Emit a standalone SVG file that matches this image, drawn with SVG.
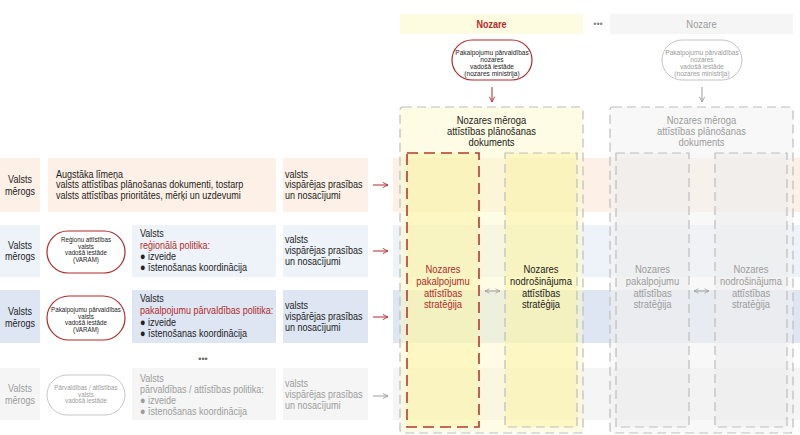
<svg xmlns="http://www.w3.org/2000/svg" width="800" height="435" viewBox="0 0 800 435">
<defs>
<style>
text{font-family:"Liberation Sans",Arial,sans-serif;font-size:11px;fill:#222}
.c{text-anchor:middle}
.r{fill:#b22a2a}
.g{fill:#9c9c9c}
.o{font-size:7.6px}
.ot{font-size:8px}
.t{font-size:11.5px}
.peach{fill:#fdf0e6}
.blue1{fill:#eef2f9}
.blue2{fill:#dfe6f3}
.gray{fill:#f5f5f5}
.yo{fill:#fdf9c9;fill-opacity:.5}
.yi{fill:#faf2a2;fill-opacity:.5}
.go{fill:#f1f1f1;fill-opacity:.5}
.gi{fill:#ececec;fill-opacity:.5}
.dash{fill:none;stroke:#bdbdbd;stroke-width:1.2;stroke-dasharray:9 5}
.dashr{fill:none;stroke:#b53a2c;stroke-width:1.6;stroke-dasharray:11 6}
.ar{fill:none;stroke:#b22a2a;stroke-width:1}
.ag{fill:none;stroke:#9c9c9c;stroke-width:1}
</style>
<marker id="mr" viewBox="0 0 8 8" refX="7" refY="4" markerWidth="7" markerHeight="7" markerUnits="userSpaceOnUse" orient="auto"><path d="M1,1 L7,4 L1,7" fill="none" stroke="#b22a2a" stroke-width="1"/></marker>
<marker id="mg" viewBox="0 0 8 8" refX="7" refY="4" markerWidth="7" markerHeight="7" markerUnits="userSpaceOnUse" orient="auto"><path d="M1,1 L7,4 L1,7" fill="none" stroke="#9c9c9c" stroke-width="1"/></marker>
<marker id="mgs" viewBox="0 0 8 8" refX="7" refY="4" markerWidth="6" markerHeight="6" markerUnits="userSpaceOnUse" orient="auto-start-reverse"><path d="M1,1 L7,4 L1,7" fill="none" stroke="#9c9c9c" stroke-width="1"/></marker>
</defs>
<rect width="800" height="435" fill="#fff"/>

<!-- row bands -->
<g id="bands">
<rect class="peach" x="393" y="158" width="407" height="54"/>
<rect class="blue1" x="393" y="225" width="407" height="52"/>
<rect class="blue2" x="393" y="290" width="407" height="53"/>
<rect class="gray" x="393" y="368" width="407" height="52"/>
</g>

<!-- sector 1 (highlighted) -->
<g id="sector1-header">
<rect x="400" y="14" width="183" height="20" fill="#fdfbe0"/>
<g transform="translate(491.5,0) scale(.82,1)"><text class="c r" x="0" y="28" font-weight="bold">Nozare</text></g>
</g>
<g id="sector1-ministry">
<rect x="452" y="40" width="80" height="40" rx="20" fill="#fff" stroke="#b22a2a" stroke-width="1.2"/>
<g transform="translate(492,0) scale(.82,1)">
<text class="c ot" x="0" y="55.5">Pakalpojumu pārvaldības</text>
<text class="c ot" x="0" y="62.5">nozares</text>
<text class="c ot" x="0" y="69.5">vadošā iestāde</text>
<text class="c ot" x="0" y="76.5">(nozares ministrija)</text>
</g>
</g>
<g id="sector1-doc">
<rect class="yo" x="400" y="107" width="183" height="326" rx="3"/>
<rect class="dash" x="400" y="107" width="183" height="326" rx="3"/>
<g transform="translate(491.5,0) scale(.82,1)">
<text class="c t" x="0" y="124">Nozares mēroga</text>
<text class="c t" x="0" y="135">attīstības plānošanas</text>
<text class="c t" x="0" y="146">dokuments</text>
</g>
</g>
<g id="sector1-service">
<rect class="yi" x="407" y="153" width="72" height="274"/>
<rect class="dashr" x="407" y="153" width="72" height="274"/>
<g transform="translate(443,0) scale(.82,1)">
<text class="c t r" x="0" y="273">Nozares</text>
<text class="c t r" x="0" y="285">pakalpojumu</text>
<text class="c t r" x="0" y="297">attīstības</text>
<text class="c t r" x="0" y="308">stratēģija</text>
</g>
</g>
<g id="sector1-support">
<rect class="yi" x="505" y="153" width="72" height="274"/>
<rect class="dash" x="505" y="153" width="72" height="274"/>
<g transform="translate(541,0) scale(.82,1)">
<text class="c t" x="0" y="273">Nozares</text>
<text class="c t" x="0" y="285">nodrošinājuma</text>
<text class="c t" x="0" y="297">attīstības</text>
<text class="c t" x="0" y="308">stratēģija</text>
</g>
</g>

<text class="c" x="598" y="27" style="font-size:9px;fill:#888">•••</text>

<!-- sector 2 (gray) -->
<g id="sector2-header">
<rect x="610" y="14" width="183" height="20" fill="#f5f5f5"/>
<g transform="translate(701.5,0) scale(.82,1)"><text class="c g" x="0" y="28" style="font-size:11.5px">Nozare</text></g>
</g>
<g id="sector2-ministry">
<rect x="662" y="40" width="80" height="40" rx="20" fill="#fff" stroke="#c4c4c4" stroke-width="1"/>
<g transform="translate(702,0) scale(.82,1)">
<text class="c ot g" x="0" y="55.5">Pakalpojumu pārvaldības</text>
<text class="c ot g" x="0" y="62.5">nozares</text>
<text class="c ot g" x="0" y="69.5">vadošā iestāde</text>
<text class="c ot g" x="0" y="76.5">(nozares ministrija)</text>
</g>
</g>
<g id="sector2-doc">
<rect class="go" x="610" y="107" width="183" height="326" rx="3"/>
<rect class="dash" x="610" y="107" width="183" height="326" rx="3"/>
<g transform="translate(701.5,0) scale(.82,1)">
<text class="c t g" x="0" y="124">Nozares mēroga</text>
<text class="c t g" x="0" y="135">attīstības plānošanas</text>
<text class="c t g" x="0" y="146">dokuments</text>
</g>
</g>
<g id="sector2-service">
<rect class="gi" x="616" y="153" width="73" height="274"/>
<rect class="dash" x="616" y="153" width="73" height="274"/>
<g transform="translate(652.5,0) scale(.82,1)">
<text class="c t g" x="0" y="273">Nozares</text>
<text class="c t g" x="0" y="285">pakalpojumu</text>
<text class="c t g" x="0" y="297">attīstības</text>
<text class="c t g" x="0" y="308">stratēģija</text>
</g>
</g>
<g id="sector2-support">
<rect class="gi" x="715" y="153" width="72" height="274"/>
<rect class="dash" x="715" y="153" width="72" height="274"/>
<g transform="translate(751,0) scale(.82,1)">
<text class="c t g" x="0" y="273">Nozares</text>
<text class="c t g" x="0" y="285">nodrošinājuma</text>
<text class="c t g" x="0" y="297">attīstības</text>
<text class="c t g" x="0" y="308">stratēģija</text>
</g>
</g>

<!-- row 1 -->
<g id="row1-label">
<rect class="peach" x="0" y="158" width="40" height="54"/>
<g transform="translate(20,0) scale(.82,1)">
<text class="c" x="0" y="183">Valsts</text>
<text class="c" x="0" y="195">mērogs</text>
</g>
</g>
<g id="row1-docs">
<rect class="peach" x="48" y="158" width="228" height="54"/>
<g transform="translate(56,0) scale(.82,1)">
<text x="0" y="178">Augstāka līmeņa</text>
<text x="0" y="188.5">valsts attīstības plānošanas dokumenti, tostarp</text>
<text x="0" y="199">valsts attīstības prioritātes, mērķi un uzdevumi</text>
</g>
</g>
<g id="row1-req">
<rect class="peach" x="283" y="158" width="85" height="54"/>
<g transform="translate(285,0) scale(.82,1)">
<text x="0" y="178">valsts</text>
<text x="0" y="188.5">vispārējas prasības</text>
<text x="0" y="199">un nosacījumi</text>
</g>
</g>

<!-- row 2 -->
<g id="row2-label">
<rect class="blue1" x="0" y="225" width="40" height="52"/>
<g transform="translate(20,0) scale(.82,1)">
<text class="c" x="0" y="249">Valsts</text>
<text class="c" x="0" y="260">mērogs</text>
</g>
</g>
<g id="row2-authority">
<rect x="47" y="231" width="78" height="42" rx="21" fill="#fff" stroke="#b22a2a" stroke-width="1.2"/>
<g transform="translate(86,0) scale(.82,1)">
<text class="c o" x="0" y="242.5">Reģionu attīstības</text>
<text class="c o" x="0" y="249">valsts</text>
<text class="c o" x="0" y="255.5">vadošā iestāde</text>
<text class="c o" x="0" y="262">(VARAM)</text>
</g>
</g>
<g id="row2-policy">
<rect class="blue1" x="132" y="225" width="144" height="52"/>
<g transform="translate(140,0) scale(.82,1)">
<text x="0" y="237">Valsts</text>
<text class="r" x="0" y="249">reģionālā politika:</text>
<text x="0" y="260">● izveide</text>
<text x="0" y="271">● īstenošanas koordinācija</text>
</g>
</g>
<g id="row2-req">
<rect class="blue1" x="283" y="225" width="85" height="52"/>
<g transform="translate(285,0) scale(.82,1)">
<text x="0" y="243">valsts</text>
<text x="0" y="254">vispārējas prasības</text>
<text x="0" y="265">un nosacījumi</text>
</g>
</g>

<!-- row 3 -->
<g id="row3-label">
<rect class="blue2" x="0" y="290" width="40" height="53"/>
<g transform="translate(20,0) scale(.82,1)">
<text class="c" x="0" y="315">Valsts</text>
<text class="c" x="0" y="327">mērogs</text>
</g>
</g>
<g id="row3-authority">
<rect x="47" y="296" width="78" height="44" rx="22" fill="#fff" stroke="#b22a2a" stroke-width="1.2"/>
<g transform="translate(86,0) scale(.82,1)">
<text class="c o" x="0" y="312.5">Pakalpojumu pārvaldības</text>
<text class="c o" x="0" y="319">valsts</text>
<text class="c o" x="0" y="325.5">vadošā iestāde</text>
<text class="c o" x="0" y="332">(VARAM)</text>
</g>
</g>
<g id="row3-policy">
<rect class="blue2" x="132" y="290" width="144" height="53"/>
<g transform="translate(140,0) scale(.82,1)">
<text x="0" y="302">Valsts</text>
<text class="r" x="0" y="314">pakalpojumu pārvaldības politika:</text>
<text x="0" y="326">● izveide</text>
<text x="0" y="337">● īstenošanas koordinācija</text>
</g>
</g>
<g id="row3-req">
<rect class="blue2" x="283" y="290" width="85" height="53"/>
<g transform="translate(285,0) scale(.82,1)">
<text x="0" y="309">valsts</text>
<text x="0" y="320">vispārējas prasības</text>
<text x="0" y="331">un nosacījumi</text>
</g>
</g>

<text class="c" x="203" y="362" style="font-size:9px;fill:#666">•••</text>

<!-- row 4 -->
<g id="row4-label">
<rect class="gray" x="0" y="368" width="40" height="52"/>
<g transform="translate(20,0) scale(.82,1)">
<text class="c g" x="0" y="392">Valsts</text>
<text class="c g" x="0" y="404">mērogs</text>
</g>
</g>
<g id="row4-authority">
<rect x="47" y="375" width="78" height="40" rx="20" fill="#fff" stroke="#c8c8c8" stroke-width="1"/>
<g transform="translate(86,0) scale(.82,1)">
<text class="c o g" x="0" y="390.5">Pārvaldības / attīstības</text>
<text class="c o g" x="0" y="397">valsts</text>
<text class="c o g" x="0" y="403.5">vadošā iestāde</text>
</g>
</g>
<g id="row4-policy">
<rect class="gray" x="132" y="368" width="144" height="52"/>
<g transform="translate(140,0) scale(.82,1)">
<text class="g" x="0" y="382">Valsts</text>
<text class="g" x="0" y="393">pārvaldības / attīstības politika:</text>
<text class="g" x="0" y="404">● izveide</text>
<text class="g" x="0" y="415">● īstenošanas koordinācija</text>
</g>
</g>
<g id="row4-req">
<rect class="gray" x="283" y="368" width="85" height="52"/>
<g transform="translate(285,0) scale(.82,1)">
<text class="g" x="0" y="387">valsts</text>
<text class="g" x="0" y="398">vispārējas prasības</text>
<text class="g" x="0" y="409">un nosacījumi</text>
</g>
</g>

<!-- connectors -->
<g id="connectors">
<line class="ar" x1="373" y1="185" x2="388" y2="185" marker-end="url(#mr)"/>
<line class="ar" x1="373" y1="251" x2="388" y2="251" marker-end="url(#mr)"/>
<line class="ar" x1="373" y1="317" x2="388" y2="317" marker-end="url(#mr)"/>
<line class="ag" x1="373" y1="396" x2="388" y2="396" marker-end="url(#mg)"/>
<line class="ar" x1="492" y1="87" x2="492" y2="102" marker-end="url(#mr)"/>
<line class="ag" x1="702" y1="87" x2="702" y2="102" marker-end="url(#mg)"/>
<line class="ag" x1="485" y1="291" x2="500" y2="291" marker-start="url(#mgs)" marker-end="url(#mgs)"/>
<line class="ag" x1="694" y1="291" x2="709" y2="291" marker-start="url(#mgs)" marker-end="url(#mgs)"/>
</g>
</svg>
